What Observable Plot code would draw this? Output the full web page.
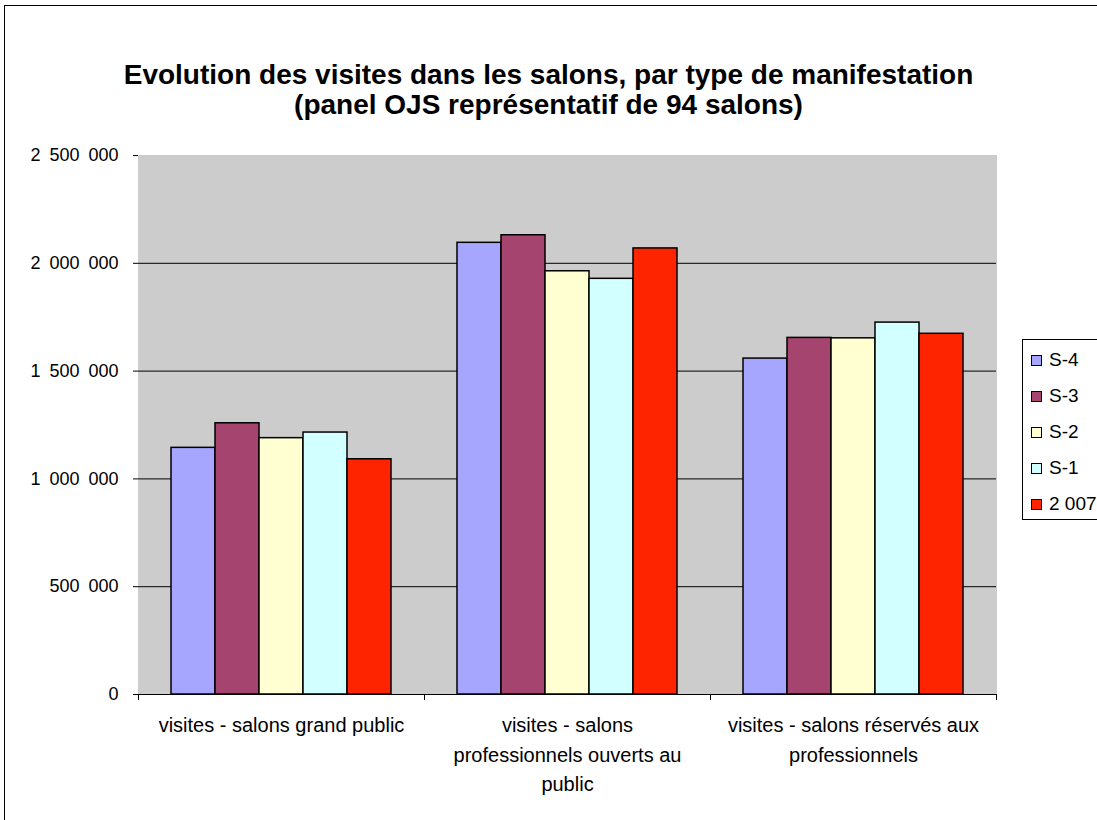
<!DOCTYPE html>
<html>
<head>
<meta charset="utf-8">
<script src="https://cdn.jsdelivr.net/npm/d3@7"></script>
<script src="https://cdn.jsdelivr.net/npm/@observablehq/plot@0.6"></script>
<style>
  html, body { margin: 0; padding: 0; background: #fff; overflow: hidden; }
  #wrap { position: relative; width: 1097px; height: 820px; font-family: "Liberation Sans", Arial, sans-serif; }
  #frame { position: absolute; left: 4px; top: 5px; width: 1200px; height: 900px; border: 1px solid #000; box-sizing: border-box; }
  #title { position: absolute; left: 0; top: 60px; width: 1097px; text-align: center; font-weight: bold; font-size: 28px; line-height: 30px; color: #000; }
  #chart { position: absolute; left: 0; top: 0; }
  #legend { position: absolute; left: 1022px; top: 339px; width: 100px; height: 181px; border: 1px solid #000; box-sizing: border-box; background: #fff; }
  .item { position: absolute; left: 8px; font-size: 19px; line-height: 22px; color: #000; white-space: nowrap; }
  .sw { display: inline-block; width: 11px; height: 11px; border: 1px solid #000; box-sizing: border-box; margin-right: 7px; vertical-align: 0px; }
</style>
</head>
<body>
<div id="wrap">
  <div id="frame"></div>
  <div id="chart"></div>
  <div id="title">Evolution des visites dans les salons, par type de manifestation<br>(panel OJS représentatif de 94 salons)</div>
  <div id="legend"></div>
</div>
<script>
const categories = [
  "visites - salons grand public",
  "visites - salons professionnels ouverts au public",
  "visites - salons réservés aux professionnels"
];
const categoryLabels = [
  "visites - salons grand public",
  "visites - salons\nprofessionnels ouverts au\npublic",
  "visites - salons réservés aux\nprofessionnels"
];
const series = ["S-4", "S-3", "S-2", "S-1", "2 007"];
const colors = ["#a6a6ff", "#a5456f", "#ffffd2", "#d2ffff", "#ff2400"];
const valuesS4 = [1144000, 2095000, 1558000];
const valuesS3 = [1258000, 2130000, 1654000];
const valuesS2 = [1189000, 1963000, 1652000];
const valuesS1 = [1215000, 1928000, 1725000];
const values2007 = [1091000, 2069000, 1673000];
const yTicks = [0, 500000, 1000000, 1500000, 2000000, 2500000];

const seriesValues = [valuesS4, valuesS3, valuesS2, valuesS1, values2007];
const data = [];
categories.forEach((c, i) => series.forEach((s, j) => data.push({cat: c, series: s, value: seriesValues[j][i]})));

const fmt = v => d3.format(",")(v).replace(/,/g, "\u2002");
const labelOf = c => categoryLabels[categories.indexOf(c)];

const chart = Plot.plot({
  width: 1097,
  height: 820,
  marginTop: 155,
  marginBottom: 126,
  marginLeft: 137,
  marginRight: 101,
  style: {background: "transparent", fontFamily: "'Liberation Sans', Arial, sans-serif", fontSize: "18px", color: "#000"},
  fx: {domain: categories, padding: 0, axis: null},
  x: {domain: series, paddingInner: 0, paddingOuter: 0.73, axis: null},
  y: {domain: [0, 2500000], ticks: yTicks, tickFormat: fmt, tickSize: 5, tickPadding: 15, line: true, label: null},
  color: {domain: series, range: colors},
  marks: [
    Plot.frame({fill: "#cccccc", stroke: "#cccccc"}),
    Plot.ruleY(yTicks.slice(1, -1), {stroke: "#000", strokeWidth: 1}),
    Plot.barY(data, {fx: "cat", x: "series", y: "value", fill: "series", stroke: "#000", strokeWidth: 1.5}),
    Plot.ruleY([0], {stroke: "#000"}),
    Plot.frame({anchor: "left", stroke: "#000", insetTop: 539, insetBottom: -5}),
    Plot.frame({anchor: "right", stroke: "#000", insetTop: 539, insetBottom: -5}),
    Plot.axisFx({anchor: "bottom", tickFormat: labelOf, tickSize: 0, tickPadding: 17, lineHeight: 1.475, fontSize: 20, label: null})
  ]
});
document.getElementById("chart").appendChild(chart);

const legend = document.getElementById("legend");
series.forEach((s, i) => {
  const d = document.createElement("div");
  d.className = "item";
  d.style.top = (9 + i * 36) + "px";
  d.innerHTML = `<span class="sw" style="background:${colors[i]}"></span>${s}`;
  legend.appendChild(d);
});
</script>
</body>
</html>
